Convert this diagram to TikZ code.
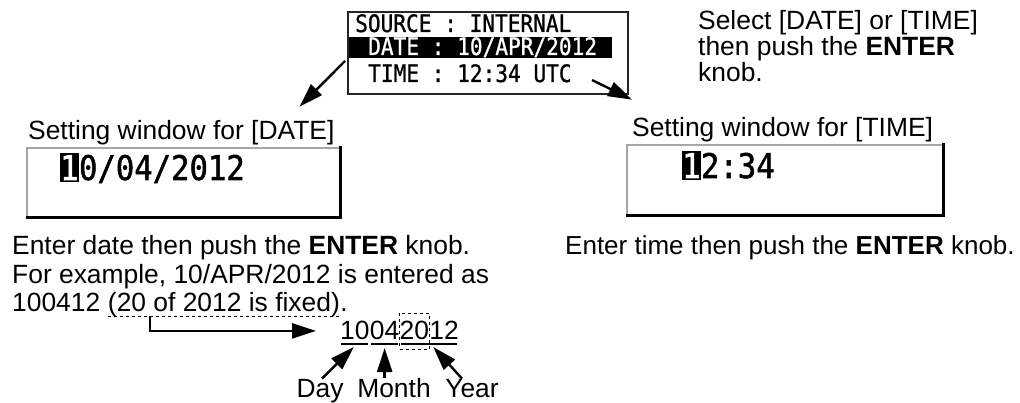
\documentclass[tikz,border=0pt]{standalone}
\usepackage{fontspec}
\setmainfont{Liberation Sans}
\newfontfamily\lcdfont[FakeStretch=0.88,FakeBold=1]{DejaVu Sans Mono}
\newfontfamily\lcdbigfont[FakeStretch=0.9,FakeBold=1.5]{DejaVu Sans Mono}
\usetikzlibrary{arrows.meta,calc}
\tikzset{
  txt/.style={anchor=base west, inner sep=0pt, font=\fontsize{26.4}{28}\selectfont},
  lcdrow/.style={anchor=base west, inner sep=0pt, font=\lcdfont\fontsize{24}{24}\selectfont},
  lcdbig/.style={anchor=base west, inner sep=0pt, font=\lcdbigfont\fontsize{34}{34}\selectfont},
  cursor/.style={lcdbig, fill=black, text=white, inner ysep=2pt},
  arr/.style={-{Triangle[length=24pt,width=15pt]}, line width=2.4pt},
  window/.style={draw=gray!70, line width=1.5pt, fill=white},
  shade/.style={line width=3pt, line cap=rect},
}
\begin{document}
\begin{tikzpicture}[x=1pt, y=-1pt]
\useasboundingbox (0,0) rectangle (1020,403);
% menu window
\fill (349,37) rectangle (612,58);
\draw[line width=1.5pt, draw=black!85] (348,12) coordinate (mtl) rectangle (628,94) coordinate (mbr);
\node[lcdrow] (src) at (355,32) {SOURCE : INTERNAL};
\node[lcdrow, text=white] (dt) at (368,55) {DATE : 10/APR/2012};
\node[lcdrow] (tm) at (368,82) {TIME : 12:34 UTC};
\coordinate (dtail) at (345,61);
\coordinate (ttail) at (592,80);
% hint on the right
\node[txt] (hint1) at (698,30) {Select [DATE] or [TIME]};
\node[txt] (hint2) at (698,56) {then push the \textbf{ENTER}};
\node[txt] (hint3) at (698,82) {knob.};

% date setting
\node[txt] (sd) at (28,140) {Setting window for [DATE]};
\draw[arr] (dtail) -- ([xshift=-35pt,yshift=14pt]sd.north east);
\draw[window] (27,148) coordinate (dwtl) rectangle (340,218) coordinate (dwbr);
\draw[shade] (dwtl -| dwbr) -- (dwbr) -- (dwtl |- dwbr);
\node[cursor] (dc) at (60,180) {1};
\node[lcdbig] (dv) at (dc.base east) {0/04/2012};
\node[txt] (de1) at (12,255) {Enter date then push the \textbf{ENTER} knob.};
\node[txt] (de2) at (12,283.5) {For example, 10/APR/2012 is entered as};
\node[txt] (de3) at (12,312) {100412};
\node[txt] (fixd) at ([xshift=7.3pt]de3.base east) {(20 of 2012 is fixed)};
\node[txt] (dot) at (fixd.base east) {.};
\draw[dashed, line width=0.8pt] ([yshift=-4pt]fixd.base west) -- ([yshift=-4pt]fixd.base east);

% entered digits
\node[txt] (dd) at (340,340) {10};
\node[txt] (mm) at (dd.base east) {04};
\node[txt] (yya) at (mm.base east) {20};
\node[txt] (yyb) at (yya.base east) {12};
\coordinate (fx) at ([xshift=42pt,yshift=-4pt]fixd.base west);
\draw[arr] (fx) |- ([xshift=-24pt]dd.west);
\foreach \a/\b in {dd/dd,mm/mm,yya/yyb}
  \draw[line width=2pt] ([xshift=1pt,yshift=-3.5pt]\a.base west) -- ([xshift=-2pt,yshift=-3.5pt]\b.base east);
\draw[dashed, line width=0.8pt] ([yshift=27pt]yya.base west) rectangle ([yshift=-9pt]yya.base east);
\node[txt, anchor=base] (day) at (320,397) {Day};
\node[txt, anchor=base] (mon) at (394,397) {Month};
\node[txt, anchor=base] (yr) at (472,397) {Year};
\draw[arr] ([xshift=2pt]day.north) -- ([xshift=-16pt,yshift=-7pt]dd.base east);
\draw[arr] (mon.north -| mm.base) -- ([yshift=-8pt]mm.base);
\draw[arr] ([xshift=-10pt]yr.north) -- ([xshift=4pt,yshift=-7pt]yyb.base west);

% time setting
\node[txt] (st) at (632,137) {Setting window for [TIME]};
\draw[arr] (ttail) -- ([yshift=18pt]st.north west);
\draw[window] (627,145) coordinate (twtl) rectangle (943,216) coordinate (twbr);
\draw[shade] (twtl -| twbr) -- (twbr) -- (twtl |- twbr);
\node[cursor] (tc) at (682,178) {1};
\node[lcdbig] (tv) at (tc.base east) {2:34};
\node[txt, font=\fontsize{26}{28}\selectfont] (te) at (565,255) {Enter time then push the \textbf{ENTER} knob.};
\end{tikzpicture}
\end{document}
